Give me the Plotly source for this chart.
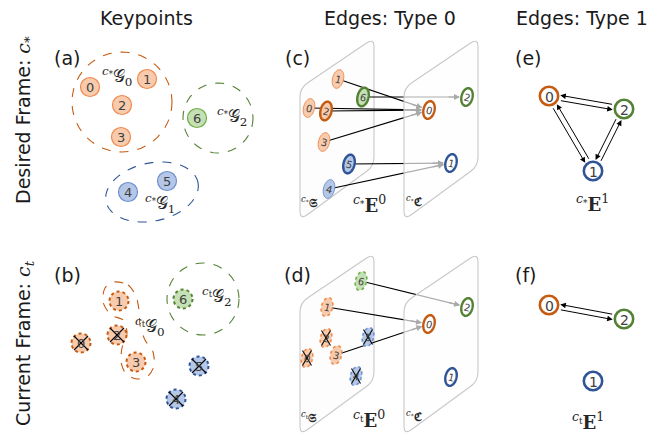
import numpy as np
import plotly.graph_objects as go

W, H = 659, 436

# ---- colours -------------------------------------------------------------
OR_FILL, OR_LINE, OR_DARK = "#F8CBAD", "#EE8A4E", "#C55A11"
GR_FILL, GR_LINE, GR_DARK = "#C5E0B4", "#70AD47", "#548235"
BL_FILL, BL_LINE, BL_DARK = "#B4C7E7", "#6F8FCF", "#2F5597"
FILL = {"o": OR_FILL, "g": GR_FILL, "b": BL_FILL}
LINE = {"o": OR_LINE, "g": GR_LINE, "b": BL_LINE}
DARK = {"o": OR_DARK, "g": GR_DARK, "b": BL_DARK}
PLANE_LINE = "#C8C8C8"
ARROW_GREY = "#A9A9A9"
SANS = "DejaVu Sans"
SERIF = "DejaVu Serif"

# ---- keypoints -----------------------------------------------------------
kp_ids = [0, 1, 2, 3, 4, 5, 6]
kp_group = ["o", "o", "o", "o", "b", "b", "g"]
# (a) desired frame
kpa_x = [90, 147, 122, 121, 128, 167, 197]
kpa_y = [87, 79, 105, 137, 192, 181, 118]
# (b) current frame
kpb_x = [81, 119, 117, 136, 176, 199, 183]
kpb_y = [343, 301, 335, 362, 399, 366, 299]
kpb_lost = [True, False, True, False, True, True, False]

# group outlines (a): centre x, centre y, rx, ry, tilt
grp_a_group = ["o", "g", "b"]
grp_a_cx = [122, 218, 152]
grp_a_cy = [102, 118, 192]
grp_a_rx = [50, 35, 47]
grp_a_ry = [50, 35, 29]
grp_a_tilt = [0, 0, -12]
# group outlines (b)
grp_b_green = (203, 299, 36)
peanut_x = [114, 128, 136, 139, 140, 145, 153, 154, 148, 137, 126, 121, 122, 127, 123, 111, 103, 105, 114]
peanut_y = [282, 285, 296, 310, 325, 340, 352, 366, 376, 379, 374, 362, 348, 333, 320, 315, 302, 288, 282]

# ---- edges type 0 (planes) -----------------------------------------------
plane_left = [(300, 88), (374, 38), (374, 166), (300, 220)]
plane_dx = 104          # right plane offset
row_dy = 215            # (d) offset below (c)

# (c) source nodes in left plane
src_c_x = [309, 338, 326, 324, 329, 349, 363]
src_c_y = [108, 79, 111, 142, 189, 164, 97]
src_c_bold = [False, False, True, False, False, True, True]
# (d) source nodes
src_d_x = [307, 327, 326, 336, 356, 368, 361]
src_d_y = [358, 307, 338, 355, 376, 337, 281]

# centroid nodes (shared by c, d, e, f): class id, group
cen_ids = [0, 1, 2]
cen_group = ["o", "b", "g"]
cen_c_x = [429, 451, 467]
cen_c_y = [110, 163, 97]
cen_d_x = [429, 451, 467]
cen_d_y = [324, 377, 307]

# edges: (keypoint id, centroid id)
edges_c = [(1, 0), (6, 2), (0, 0), (2, 0), (3, 0), (5, 1), (4, 1)]
edges_d = [(6, 2), (1, 0), (3, 0)]

# ---- edges type 1 --------------------------------------------------------
cen_e_x = [549, 593, 624]
cen_e_y = [96, 171, 109]
cen_f_x = [549, 593, 624]
cen_f_y = [305, 381, 319]
pairs_e = [(0, 2), (0, 1), (2, 1)]
pairs_f = [(0, 2)]

# ---- helpers --------------------------------------------------------------
shapes_below, shapes_above, annotations = [], [], []


def ellipse_path(cx, cy, rx, ry, tilt_deg, n=48):
    t = np.linspace(0, 2 * np.pi, n, endpoint=False)
    a = np.deg2rad(tilt_deg)
    x = rx * np.cos(t)
    y = ry * np.sin(t)
    xs = cx + x * np.cos(a) - y * np.sin(a)
    ys = cy + x * np.sin(a) + y * np.cos(a)
    pts = " L ".join(f"{px:.2f},{py:.2f}" for px, py in zip(xs, ys))
    return "M " + pts + " Z"


def rounded_poly(pts, r):
    pts = [np.array(p, float) for p in pts]
    n = len(pts)
    segs = []
    for i in range(n):
        p0, p1, p2 = pts[i - 1], pts[i], pts[(i + 1) % n]
        a = p1 + (p0 - p1) * r / np.linalg.norm(p0 - p1)
        b = p1 + (p2 - p1) * r / np.linalg.norm(p2 - p1)
        segs.append((a, p1, b))
    d = f"M {segs[0][0][0]:.2f},{segs[0][0][1]:.2f}"
    for i, (a, c, b) in enumerate(segs):
        if i > 0:
            d += f" L {a[0]:.2f},{a[1]:.2f}"
        d += f" Q {c[0]:.2f},{c[1]:.2f} {b[0]:.2f},{b[1]:.2f}"
    return d + " Z"


def circle(cx, cy, r, fill, line, width=1.0, dash="solid", layer="above"):
    s = dict(type="circle", xref="x", yref="y", x0=cx - r, x1=cx + r,
             y0=cy - r, y1=cy + r, fillcolor=fill,
             line=dict(color=line, width=width, dash=dash), layer=layer)
    (shapes_above if layer == "above" else shapes_below).append(s)


def ellipse(cx, cy, rx, ry, tilt, fill, line, width=1.0, dash="solid", layer="above"):
    s = dict(type="path", xref="x", yref="y", path=ellipse_path(cx, cy, rx, ry, tilt),
             fillcolor=fill, line=dict(color=line, width=width, dash=dash), layer=layer)
    (shapes_above if layer == "above" else shapes_below).append(s)


def cross(cx, cy, hx, hy):
    for sx in (-1, 1):
        shapes_above.append(dict(type="line", xref="x", yref="y",
                                 x0=cx - hx, y0=cy - sx * hy, x1=cx + hx, y1=cy + sx * hy,
                                 line=dict(color="black", width=1.1), layer="above"))


def text(x, y, s, size=13, color="#262626", family=SANS, angle=0):
    annotations.append(dict(x=x, y=y, xref="x", yref="y", text=s, showarrow=False,
                            xanchor="center", yanchor="middle", textangle=angle,
                            font=dict(size=size, color=color, family=family)))


def arrow(x0, y0, x1, y1, color="black", width=1.0, standoff=0, startstandoff=0, size=1.0):
    annotations.append(dict(x=x1, y=y1, ax=x0, ay=y0, xref="x", yref="y",
                            axref="x", ayref="y", text="", showarrow=True,
                            arrowhead=2, arrowsize=size, arrowwidth=width,
                            arrowcolor=color, standoff=standoff,
                            startstandoff=startstandoff))


MATH_C_STAR = f'<span style="font-family:{SERIF}"><i>c</i><sub>*</sub></span>'
MATH_C_T = f'<span style="font-family:{SERIF}"><i>c</i><sub><i>t</i></sub></span>'
G_CAL = "\U0001D4A2"


def pre(sup):
    # left superscript frame tag, e.g. c_* or c_t
    return f'<span style="font-family:{SERIF}"><sup><i>c</i><sub>{sup}</sub></sup></span>'


def group_label(sup, idx):
    return pre(sup) + f'<span style="font-family:{SERIF}">{G_CAL}<sub>{idx}</sub></span>'


def edge_label(sup, idx):
    return pre(sup) + f'<span style="font-family:{SERIF}"><b>E</b><sup>{idx}</sup></span>'


# ---- titles and row labels ------------------------------------------------
TXT = "#1a1a1a"
text(146, 18, "Keypoints", size=19, color=TXT)
text(390, 18, "Edges: Type 0", size=19, color=TXT)
text(582, 18, "Edges: Type 1", size=19, color=TXT)
text(24, 120, "Desired Frame: " + MATH_C_STAR, size=19, color=TXT, angle=-90)
text(24, 343, "Current Frame: " + MATH_C_T, size=19, color=TXT, angle=-90)
for lab, (lx, ly) in zip(["(a)", "(b)", "(c)", "(d)", "(e)", "(f)"],
                         [(67, 58), (67, 275), (297, 58), (297, 275), (528, 58), (526, 275)]):
    text(lx, ly, lab, size=19, color=TXT)

# ---- (a) keypoints ---------------------------------------------------------
for g, cx, cy, rx, ry, tl in zip(grp_a_group, grp_a_cx, grp_a_cy, grp_a_rx, grp_a_ry, grp_a_tilt):
    ellipse(cx, cy, rx, ry, tl, "rgba(0,0,0,0)", DARK[g], 1.1, "dash", layer="below")
for i, g, x, y in zip(kp_ids, kp_group, kpa_x, kpa_y):
    circle(x, y, 9.5, FILL[g], LINE[g], 1.2)
    text(x, y + 0.5, str(i), size=13, color="#404040")

text(117, 76, group_label("*", 0), size=17)
text(232, 116, group_label("*", 2), size=17)
text(160, 203, group_label("*", 1), size=17)

# ---- (b) keypoints ---------------------------------------------------------
gx, gy, gr = grp_b_green
circle(gx, gy, gr, "rgba(0,0,0,0)", DARK["g"], 1.1, "dash", layer="below")
for i, g, x, y, lost in zip(kp_ids, kp_group, kpb_x, kpb_y, kpb_lost):
    circle(x, y, 9.5, FILL[g], DARK[g], 2.0, "dot")
    text(x, y + 0.5, str(i), size=13, color="#404040")
for x, y, lost in zip(kpb_x, kpb_y, kpb_lost):
    if lost:
        cross(x, y, 7, 7)
text(150, 326, group_label("t", 0), size=17)
text(217, 296, group_label("t", 2), size=17)

# ---- (c), (d) planes -------------------------------------------------------
def plane(dx, dy):
    return [(x + dx, y + dy) for x, y in plane_left]


for dy in (0, row_dy):
    shapes_below.append(dict(type="path", xref="x", yref="y", layer="below",
                             path=rounded_poly(plane(0, dy), 9),
                             fillcolor="#FDFDFD", line=dict(color=PLANE_LINE, width=1.1)))

line_x, line_y = [], []
stub_list = []


def add_edges(edges, sx, sy, tx, ty):
    for k, c in edges:
        x0, y0 = sx[k], sy[k]
        x1, y1 = tx[c], ty[c]
        u = np.array([x1 - x0, y1 - y0], float)
        u /= np.linalg.norm(u)
        line_x.extend([x0, x1 - u[0] * 8, None])
        line_y.extend([y0, y1 - u[1] * 8, None])
        stub_list.append((x1 - u[0] * 20, y1 - u[1] * 20, x1, y1))


add_edges(edges_c, src_c_x, src_c_y, cen_c_x, cen_c_y)
add_edges(edges_d, src_d_x, src_d_y, cen_d_x, cen_d_y)

# source nodes (c)
for i, g, x, y, bold in zip(kp_ids, kp_group, src_c_x, src_c_y, src_c_bold):
    if bold:
        ellipse(x, y, 5.5, 9.5, 14, FILL[g], DARK[g], 2.4)
    else:
        ellipse(x, y, 5.5, 9.5, 14, FILL[g], LINE[g], 1.0)
    text(x, y + 0.5, str(i), size=10, color="#404040", angle=14)
# source nodes (d)
for i, g, x, y, lost in zip(kp_ids, kp_group, src_d_x, src_d_y, kpb_lost):
    ellipse(x, y, 5.5, 9.5, 14, FILL[g], LINE[g], 1.6, "dot")
    text(x, y + 0.5, str(i), size=10, color="#404040", angle=14)
for x, y, lost in zip(src_d_x, src_d_y, kpb_lost):
    if lost:
        cross(x, y, 4.5, 7.5)

# right (centroid) planes drawn translucent above the edge lines
for dy in (0, row_dy):
    shapes_above.append(dict(type="path", xref="x", yref="y", layer="above",
                             path=rounded_poly(plane(plane_dx, dy), 9),
                             fillcolor="rgba(253,253,253,0.68)",
                             line=dict(color=PLANE_LINE, width=1.1)))
for cx_list, cy_list in ((cen_c_x, cen_c_y), (cen_d_x, cen_d_y)):
    for i, g, x, y in zip(cen_ids, cen_group, cx_list, cy_list):
        ellipse(x, y, 5.5, 9.0, 14, "white", DARK[g], 2.4)
        text(x, y + 0.5, str(i), size=10, color="#404040", angle=14)

for x0, y0, x1, y1 in stub_list:
    arrow(x0, y0, x1, y1, color=ARROW_GREY, width=1.2, standoff=7)

# plane labels
FRAK_S = "\U0001D516"
FRAK_C = "\u212D"
for dy, sup in ((0, "*"), (row_dy, "t")):
    text(309, 202 + dy, pre(sup) + f'<span style="font-family:{SERIF}"><b>{FRAK_S}</b></span>', size=12)
    text(414, 201 + dy, pre("*") + f'<span style="font-family:{SERIF}"><b>{FRAK_C}</b></span>', size=12)
    text(369, 204 + dy, edge_label(sup, 0), size=18)

# ---- (e), (f) type-1 edges -------------------------------------------------
for px, py, pairs in ((cen_e_x, cen_e_y, pairs_e), (cen_f_x, cen_f_y, pairs_f)):
    for a, b in pairs:
        p, q = np.array([px[a], py[a]], float), np.array([px[b], py[b]], float)
        u = (q - p) / np.linalg.norm(q - p)
        nrm = np.array([-u[1], u[0]]) * 2.6
        arrow(*(p + nrm), *(q + nrm), color="black", width=1.0, standoff=11, startstandoff=11, size=1.1)
        arrow(*(q - nrm), *(p - nrm), color="black", width=1.0, standoff=11, startstandoff=11, size=1.1)
    for i, g, x, y in zip(cen_ids, cen_group, px, py):
        circle(x, y, 9.2, "white", DARK[g], 2.6)
        text(x, y + 0.5, str(i), size=14, color="#404040")

text(592, 203, edge_label("*", 1), size=18)
text(588, 421, edge_label("t", 1), size=18)

# ---- figure -----------------------------------------------------------------
fig = go.Figure()
fig.add_trace(go.Scatter(x=peanut_x, y=peanut_y, mode="lines",
                         line=dict(color=OR_DARK, width=1.1, dash="dash", shape="spline", smoothing=0.8),
                         hoverinfo="skip", showlegend=False))
fig.add_trace(go.Scatter(x=line_x, y=line_y, mode="lines",
                         line=dict(color="black", width=1.2),
                         hoverinfo="skip", showlegend=False))

fig.update_layout(
    width=W, height=H, margin=dict(l=0, r=0, t=0, b=0),
    paper_bgcolor="white", plot_bgcolor="white",
    xaxis=dict(range=[0, W], visible=False, fixedrange=True),
    yaxis=dict(range=[H, 0], visible=False, fixedrange=True),
    shapes=shapes_below + shapes_above,
    annotations=annotations,
    showlegend=False,
)
fig.write_html("out.html")
